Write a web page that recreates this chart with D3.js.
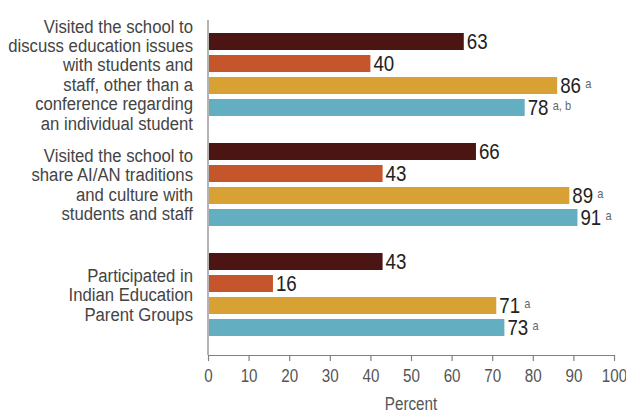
<!DOCTYPE html>
<html>
<head>
<meta charset="utf-8">
<script src="https://cdn.jsdelivr.net/npm/d3@7"></script>
<style>
  body { margin: 0; background: #fff; }
  svg { display: block; font-family: "Liberation Sans", Arial, sans-serif; }
</style>
</head>
<body>
<div id="chart"></div>
<script>
// Categories (one entry per group, split into display lines)
const categories = [
    ["Visited the school to", "discuss education issues", "with students and", "staff, other than a", "conference regarding", "an individual student"],
    ["Visited the school to", "share AI/AN traditions", "and culture with", "students and staff"],
    ["Participated in", "Indian Education", "Parent Groups"]
];

// Series values, top bar to bottom bar in each group
const darkValues = [63, 66, 43];
const orangeValues = [40, 43, 16];
const goldValues = [86, 89, 71];
const tealValues = [78, 91, 73];

// Superscript notes after the value labels
const darkNotes = ["", "", ""];
const orangeNotes = ["", "", ""];
const goldNotes = ["a", "a", "a"];
const tealNotes = ["a, b", "a", "a"];

const seriesColors = ["#4b1513", "#c5552b", "#d8a134", "#63aec1"];
const xTicks = [0, 10, 20, 30, 40, 50, 60, 70, 80, 90, 100];

const width = 626, height = 413;
const margin = { top: 20, right: 12, bottom: 58, left: 208 };
const axisY = height - margin.bottom; // 355

const series = [
    { values: darkValues, notes: darkNotes },
    { values: orangeValues, notes: orangeNotes },
    { values: goldValues, notes: goldNotes },
    { values: tealValues, notes: tealNotes }
];

const svg = d3.select("#chart")
    .append("svg")
    .attr("width", width)
    .attr("height", height);

const x = d3.scaleLinear().domain([0, 100]).range([margin.left, 614]);

// outer band: one per category
const y0 = d3.scaleBand()
    .domain(d3.range(categories.length))
    .range([33, 363]);

// inner band: one per series
const y1 = d3.scaleBand()
    .domain(d3.range(series.length))
    .range([0, 83])
    .paddingInner(0.227);

// X-axis
const xAxis = svg.append("g")
    .attr("transform", `translate(0,${axisY})`)
    .call(d3.axisBottom(x).tickValues(xTicks).tickSize(6).tickSizeOuter(0).tickPadding(8));
xAxis.select(".domain").attr("stroke", "#808080").attr("stroke-width", 1.2);
xAxis.selectAll(".tick line").attr("stroke", "#808080").attr("stroke-width", 1.2);
xAxis.selectAll(".tick text")
    .attr("fill", "#555")
    .attr("transform", "scale(0.8,1)")
    .style("font-size", "19px")
    .style("font-family", "\"Liberation Sans\", Arial, sans-serif");

svg.append("text")
    .attr("transform", `translate(${x(50)},410) scale(0.8,1)`)
    .attr("text-anchor", "middle")
    .attr("fill", "#555")
    .style("font-size", "19px")
    .text("Percent");

// Left vertical axis line
svg.append("line")
    .attr("x1", x(0)).attr("x2", x(0))
    .attr("y1", margin.top).attr("y2", axisY)
    .attr("stroke", "#808080")
    .attr("stroke-width", 1.2);

// Groups
const groups = svg.selectAll(".group")
    .data(categories)
    .enter()
    .append("g")
    .attr("class", "group")
    .attr("transform", (d, i) => `translate(0,${y0(i)})`);

// Category labels, vertically centred on the bars
const lineH = 19.4;
groups.append("text")
    .attr("transform", "translate(193,0) scale(0.88,1)")
    .attr("text-anchor", "end")
    .attr("fill", "#444")
    .style("font-size", "19px")
    .each(function(lines) {
        const mid = 83 / 2;
        const start = mid - (lines.length - 1) * lineH / 2;
        d3.select(this).selectAll("tspan")
            .data(lines)
            .enter()
            .append("tspan")
            .attr("x", 0)
            .attr("y", (l, j) => start + j * lineH)
            .attr("dy", "0.35em")
            .text(l => l);
    });

// Bars and value labels
groups.each(function(cat, ci) {
    const g = d3.select(this);
    series.forEach((s, si) => {
        const v = s.values[ci];
        g.append("rect")
            .attr("x", x(0) + 1)
            .attr("y", y1(si))
            .attr("width", x(v) - x(0) - 1)
            .attr("height", y1.bandwidth())
            .attr("fill", seriesColors[si]);

        const label = g.append("text")
            .attr("transform", `translate(${x(v) + 3},${y1(si) + y1.bandwidth() / 2}) scale(0.85,1)`)
            .attr("dy", "0.36em")
            .attr("fill", "#222")
            .style("font-size", "22px")
            .text(v);

        if (s.notes[ci]) {
            label.append("tspan")
                .attr("dx", 5)
                .attr("dy", "-0.42em")
                .attr("fill", "#666")
                .style("font-size", "13px")
                .text(s.notes[ci]);
        }
    });
});
</script>
</body>
</html>
